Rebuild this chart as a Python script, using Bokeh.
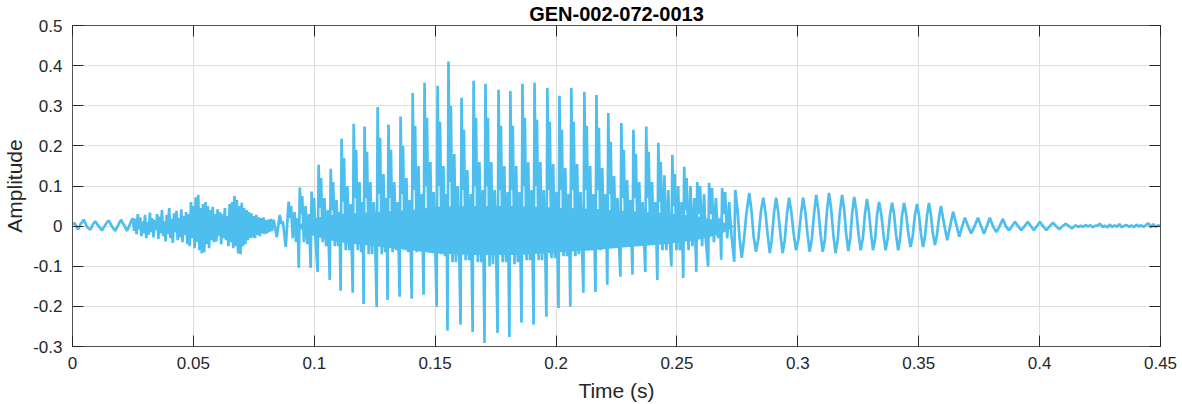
import numpy as np
from bokeh.plotting import figure
from bokeh.models import FixedTicker, LinearAxis, Range1d
from bokeh.embed import file_html
from bokeh.resources import INLINE

TITLE = "GEN-002-072-0013"
X_LABEL = "Time (s)"
Y_LABEL = "Amplitude"
X_TICKS = [0, 0.05, 0.1, 0.15, 0.2, 0.25, 0.3, 0.35, 0.4, 0.45]
X_TICK_LABELS = ["0", "0.05", "0.1", "0.15", "0.2", "0.25", "0.3", "0.35", "0.4", "0.45"]
Y_TICKS = [-0.3, -0.2, -0.1, 0, 0.1, 0.2, 0.3, 0.4, 0.5]
Y_TICK_LABELS = ["-0.3", "-0.2", "-0.1", "0", "0.1", "0.2", "0.3", "0.4", "0.5"]

# --- low ripple at the start (time in ms, amplitude) ---
ripple_t_ms = [0.0, 0.8, 1.5, 2.3, 3.4, 4.0, 4.6, 5.3, 6.0, 7.4, 8.4, 9.0, 9.4, 10.1, 10.8, 12.2,
               13.6, 14.3, 15.0, 15.7, 16.3, 17.7, 19.0, 19.6, 20.2, 20.8, 21.4, 22.5, 23.2,
               23.8, 24.4, 25.0]
ripple_amp = [0.004, 0.008, 0.001, -0.009, 0.006, 0.010, 0.016, 0.008, -0.002, -0.009, 0.004,
              0.009, 0.012, 0.006, 0.0, -0.011, 0.003, 0.010, 0.014, 0.006, -0.001, -0.012,
              0.004, 0.011, 0.016, 0.007, 0.002, -0.012, -0.004, 0.006, 0.014, 0.020]

# --- unvoiced noise, sampled every 0.5 ms from 25.5 ms ---
noise_t0_ms = 25.5
noise_dt_ms = 0.5
noise_amp = [-0.012, 0.018, -0.020, 0.030, -0.008, 0.022, -0.025, 0.012, -0.018, 0.028,
             -0.030, 0.010, -0.022, 0.034, -0.015, 0.020, -0.028, 0.015, -0.010, 0.030,
             -0.032, 0.024, -0.018, 0.040, -0.025, 0.012, -0.038, 0.028, -0.020, 0.045,
             -0.030, 0.018, -0.042, 0.032, -0.015, 0.038, -0.035, 0.020, -0.028, 0.042,
             -0.040, 0.025, -0.022, 0.035, -0.045, 0.030, -0.050, 0.060, -0.030, 0.050,
             -0.055, 0.072, -0.040, 0.078, -0.060, 0.045, -0.068, 0.055, -0.065, 0.060,
             -0.045, 0.050, -0.055, 0.040, -0.035, 0.048, -0.040, 0.030, -0.038, 0.042,
             -0.025, 0.035, -0.045, 0.030, -0.030, 0.045, -0.035, 0.025, -0.050, 0.055,
             -0.040, 0.060, -0.055, 0.075, -0.050, 0.065, -0.068, 0.050, -0.070, 0.058,
             -0.050, 0.045, -0.045, 0.040, -0.035, 0.035, -0.030, 0.032, -0.028, 0.025,
             -0.030, 0.028, -0.022, 0.022, -0.025, 0.020, -0.018, 0.022, -0.020, 0.015,
             -0.018, 0.016, -0.014, 0.018]

# --- voicing onset ---
onset_t_ms = [82.5, 83.2, 84.5, 85.7, 86.4, 87.0, 88.2]
onset_amp = [-0.012, 0.016, -0.027, 0.028, 0.005, 0.012, -0.052]

# --- voiced part: glottal pulses with their ringing ---
voiced_t_ms = [
    89.4, 89.9, 90.4, 91.1, 91.8, 92.5, 93.1, 93.6,
    94.0, 94.5, 95.0, 95.7, 96.4, 97.1, 97.8, 98.5,
    98.9, 99.4, 99.9, 100.6, 101.4,
    101.8, 102.3, 102.8, 103.5, 104.2, 104.9, 105.6, 106.4,
    106.8, 107.3, 107.8, 108.5, 109.2, 109.9, 110.4, 110.9,
    111.3, 111.8, 112.3, 113.0, 113.7, 114.4, 115.1, 115.9,
    116.3, 116.8, 117.3, 118.0, 118.7, 119.4, 120.0, 120.4,
    120.8, 121.3, 121.8, 122.5, 123.2, 123.9, 124.6, 125.2, 125.8,
    126.2, 126.7, 127.2, 127.9, 128.6, 129.3, 129.9, 130.3,
    130.7, 131.2, 131.7, 132.4, 133.1, 133.8, 134.5, 135.3,
    135.7, 136.2, 136.7, 137.4, 138.1, 138.8, 139.5, 140.3,
    140.7, 141.2, 141.7, 142.4, 143.1, 143.8, 144.5, 145.2,
    145.6, 146.1, 146.6, 147.3, 148.0, 148.7, 149.4, 150.0, 150.6,
    151.0, 151.5, 152.0, 152.7, 153.4, 154.1, 154.7, 155.1,
    155.5, 156.0, 156.5, 157.2, 157.9, 158.6, 159.3, 159.9, 160.5,
    160.9, 161.4, 161.9, 162.6, 163.3, 164.0, 164.7, 165.5,
    165.9, 166.4, 166.9, 167.6, 168.3, 169.0, 169.7, 170.4,
    170.8, 171.3, 171.8, 172.5, 173.2, 173.9, 174.6, 175.2, 175.8,
    176.2, 176.7, 177.2, 177.9, 178.6, 179.3, 180.0, 180.7,
    181.1, 181.6, 182.1, 182.8, 183.5, 184.2, 184.9, 185.7,
    186.1, 186.6, 187.1, 187.8, 188.5, 189.2, 189.9, 190.7,
    191.1, 191.6, 192.1, 192.8, 193.5, 194.2, 194.9, 195.5, 196.0,
    196.4, 196.9, 197.4, 198.1, 198.8, 199.5, 200.2, 201.0,
    201.4, 201.9, 202.4, 203.1, 203.8, 204.5, 205.2, 205.9,
    206.3, 206.8, 207.3, 208.0, 208.7, 209.4, 210.1, 210.7, 211.3,
    211.7, 212.2, 212.7, 213.4, 214.1, 214.8, 215.5, 216.3,
    216.7, 217.2, 217.7, 218.4, 219.1, 219.8, 220.5, 221.2,
    221.6, 222.1, 222.6, 223.3, 224.0, 224.7, 225.4, 226.0, 226.6,
    227.0, 227.5, 228.0, 228.7, 229.4, 230.1, 230.8, 231.6,
    232.0, 232.5, 233.0, 233.7, 234.4, 235.1, 235.8, 236.4, 236.9,
    237.3, 237.8, 238.3, 239.0, 239.7, 240.4, 241.1, 241.9,
    242.3, 242.8, 243.3, 244.0, 244.8, 245.6, 246.4, 247.1, 247.7,
    248.1, 248.6, 249.1, 249.8, 250.5, 251.2, 251.9, 252.6,
    253.0, 253.5, 254.0, 254.8, 255.6, 256.4, 257.2, 258.0,
    258.4, 259.0, 259.6, 260.4, 261.2, 262.0, 262.9,
    263.3, 263.9, 264.5, 265.3, 266.1, 267.0, 267.8, 268.3,
    268.7, 269.3, 269.9, 270.8, 271.6, 272.5, 273.7,
]
voiced_amp = [
    0.061, 0.020, 0.050, -0.030, 0.035, -0.040, 0.020, -0.104,
    0.096, 0.030, 0.075, -0.040, 0.050, -0.045, 0.030, -0.104,
    0.086, 0.020, 0.070, -0.040, -0.114,
    0.153, 0.045, 0.120, -0.040, 0.070, -0.050, 0.040, -0.134,
    0.143, 0.040, 0.110, -0.050, 0.065, -0.050, 0.035, -0.161,
    0.218, 0.060, 0.170, -0.060, 0.100, -0.060, 0.055, -0.166,
    0.255, 0.070, 0.190, -0.060, 0.110, -0.065, 0.060, -0.194,
    0.248, 0.070, 0.185, -0.070, 0.110, -0.070, 0.060, -0.040, -0.202,
    0.297, 0.080, 0.220, -0.070, 0.130, -0.065, 0.070, -0.184,
    0.253, 0.070, 0.190, -0.065, 0.110, -0.060, 0.060, -0.176,
    0.273, 0.080, 0.200, -0.060, 0.120, -0.065, 0.065, -0.181,
    0.332, 0.090, 0.250, -0.065, 0.150, -0.060, 0.080, -0.171,
    0.357, 0.100, 0.270, -0.060, 0.160, -0.065, 0.085, -0.040, -0.201,
    0.350, 0.100, 0.260, -0.070, 0.150, -0.075, 0.080, -0.261,
    0.410, 0.110, 0.300, -0.090, 0.180, -0.090, 0.100, -0.050, -0.246,
    0.320, 0.090, 0.240, -0.085, 0.140, -0.085, 0.080, -0.264,
    0.362, 0.100, 0.270, -0.090, 0.160, -0.090, 0.090, -0.291,
    0.355, 0.100, 0.270, -0.100, 0.160, -0.095, 0.090, -0.055, -0.266,
    0.340, 0.090, 0.250, -0.090, 0.150, -0.090, 0.085, -0.276,
    0.337, 0.090, 0.250, -0.095, 0.150, -0.090, 0.085, -0.241,
    0.355, 0.100, 0.270, -0.085, 0.160, -0.085, 0.090, -0.246,
    0.357, 0.100, 0.265, -0.085, 0.160, -0.085, 0.090, -0.050, -0.226,
    0.345, 0.090, 0.260, -0.080, 0.155, -0.080, 0.085, -0.204,
    0.325, 0.090, 0.240, -0.075, 0.145, -0.075, 0.080, -0.201,
    0.345, 0.090, 0.260, -0.075, 0.155, -0.070, 0.085, -0.045, -0.166,
    0.335, 0.090, 0.250, -0.060, 0.150, -0.060, 0.080, -0.164,
    0.327, 0.090, 0.245, -0.060, 0.145, -0.055, 0.080, -0.146,
    0.282, 0.080, 0.210, -0.050, 0.125, -0.050, 0.070, -0.035, -0.126,
    0.257, 0.070, 0.190, -0.045, 0.115, -0.045, 0.065, -0.121,
    0.240, 0.070, 0.180, -0.045, 0.110, -0.040, 0.060, -0.030, -0.114,
    0.248, 0.070, 0.185, -0.045, 0.110, -0.045, 0.060, -0.134,
    0.208, 0.060, 0.160, -0.060, 0.127, -0.060, 0.090, -0.040, -0.100,
    0.178, 0.050, 0.130, -0.060, 0.100, -0.060, 0.060, -0.129,
    0.148, 0.040, 0.120, -0.060, 0.100, -0.050, 0.070, -0.114,
    0.110, 0.030, 0.100, -0.050, 0.080, -0.040, -0.101,
    0.108, 0.030, 0.095, -0.040, 0.070, -0.030, 0.020, -0.084,
    0.095, 0.030, 0.085, -0.030, 0.060, -0.020, -0.089,
]

# --- envelope of the densely oscillating core of the voiced part (ms, upper, lower) ---
core_t_ms = [92.0, 100.0, 110.0, 125.0, 140.0, 150.0, 165.0, 185.0, 200.0, 215.0, 230.0,
             245.0, 258.0, 268.0, 274.0]
core_hi = [0.0, 0.020, 0.030, 0.035, 0.040, 0.048, 0.050, 0.050, 0.046, 0.043, 0.038,
           0.033, 0.025, 0.012, 0.0]
core_lo = [0.0, -0.025, -0.040, -0.050, -0.060, -0.068, -0.072, -0.072, -0.066, -0.060,
           -0.052, -0.045, -0.035, -0.020, 0.0]

# --- decaying, nearly sinusoidal part ---
decay_t_ms = [
    274.1, 275.0, 275.9, 276.8, 277.7, 278.7,
    279.9, 280.8, 281.7, 282.7, 283.7, 284.7,
    285.7, 286.6, 287.5, 288.4, 289.2, 290.1,
    291.0, 291.9, 292.8, 293.7, 294.6, 295.5,
    296.4, 297.3, 298.3, 299.3, 300.3, 301.3,
    302.2, 303.1, 304.0, 304.9, 305.8, 306.7,
    307.6, 308.5, 309.4, 310.3, 311.2, 312.0,
    312.9, 313.8, 314.7, 315.6, 316.5, 317.4,
    318.3, 319.2, 320.0, 320.9, 321.7, 322.5,
    323.3, 324.2, 325.1, 326.0, 326.9, 327.8,
    328.6, 329.4, 330.3, 331.1, 332.0, 332.8,
    333.6, 334.5, 335.4, 336.3, 337.2, 338.1,
    339.0, 339.8, 340.6, 341.5, 342.3, 343.1,
    343.9, 344.8, 345.7, 346.6, 347.5, 348.4,
    349.3, 350.1, 350.9, 351.8, 352.6, 353.4,
    354.2, 355.0, 355.8, 356.7, 357.5, 358.4,
    359.2, 360.5, 361.8, 363.0,
    364.2, 365.5, 366.8, 368.0,
    369.1, 370.4, 371.7, 373.1,
    374.5, 375.8, 377.0, 378.2,
    379.4, 380.7, 382.1, 383.5,
    384.8, 386.0, 387.3, 388.6,
    389.8, 391.1, 392.4, 393.8,
    395.1, 396.4, 397.6, 398.9,
    400.1, 401.4, 402.8, 404.2,
    405.5, 406.8, 408.1, 409.5,
    410.8, 412.1, 413.4, 414.4,
]
decay_amp = [
    0.090, 0.045, -0.030, -0.079, -0.035, 0.030,
    0.083, 0.040, -0.025, -0.064, -0.030, 0.035,
    0.071, 0.035, -0.020, -0.067, -0.035, 0.030,
    0.071, 0.035, -0.020, -0.067, -0.035, 0.030,
    0.071, 0.035, -0.020, -0.060, -0.030, 0.030,
    0.071, 0.035, -0.020, -0.064, -0.032, 0.030,
    0.078, 0.040, -0.020, -0.064, -0.032, 0.035,
    0.083, 0.042, -0.022, -0.067, -0.034, 0.036,
    0.078, 0.040, -0.020, -0.062, -0.030, 0.034,
    0.073, 0.037, -0.020, -0.060, -0.030, 0.032,
    0.068, 0.035, -0.020, -0.060, -0.030, 0.030,
    0.060, 0.030, -0.020, -0.060, -0.030, 0.027,
    0.058, 0.030, -0.020, -0.060, -0.030, 0.026,
    0.058, 0.030, -0.018, -0.052, -0.026, 0.026,
    0.055, 0.028, -0.018, -0.052, -0.026, 0.025,
    0.058, 0.030, -0.016, -0.047, -0.024, 0.022,
    0.050, 0.005, -0.035, 0.000,
    0.036, 0.005, -0.026, 0.000,
    0.021, 0.000, -0.018, 0.000,
    0.021, 0.000, -0.019, 0.000,
    0.021, 0.000, -0.015, 0.000,
    0.018, 0.000, -0.011, 0.000,
    0.011, 0.000, -0.010, 0.000,
    0.011, 0.000, -0.010, 0.000,
    0.011, 0.000, -0.010, 0.000,
    0.009, 0.000, -0.008, 0.000,
    0.006, 0.000, -0.006, 0.000,
]

# --- residual noise at the end, sampled every 1 ms from 415 ms ---
tail_t0_ms = 415.0
tail_dt_ms = 1.0
tail_amp = [0.002, -0.002, 0.001, -0.002, 0.003, -0.001, 0.002, -0.003, 0.001, 0.002,
            0.006, -0.002, 0.001, -0.003, 0.004, -0.002, 0.002, -0.002, 0.005, -0.003,
            0.001, 0.003, -0.002, 0.002, -0.003, 0.004, -0.001, 0.002, -0.002, 0.003,
            0.007, -0.003, 0.005, -0.002, 0.002, 0.001]

noise_t_ms = noise_t0_ms + noise_dt_ms * np.arange(len(noise_amp))
tail_t_ms = tail_t0_ms + tail_dt_ms * np.arange(len(tail_amp))

t_ms = np.concatenate([ripple_t_ms, noise_t_ms, onset_t_ms, voiced_t_ms, decay_t_ms, tail_t_ms])
amp = np.concatenate([ripple_amp, noise_amp, onset_amp, voiced_amp, decay_amp, tail_amp])
t_s = t_ms / 1000.0

FONT = "Liberation Sans"
TXT = "#262626"
WAVE = "#4DBEEE"

p = figure(width=1182, height=404, output_backend="svg", toolbar_location=None,
           x_range=Range1d(0, 0.45), y_range=Range1d(-0.3, 0.5),
           min_border_left=62, min_border_right=22, min_border_top=25, min_border_bottom=58,
           background_fill_color="white", border_fill_color="white")

p.title.text = TITLE
p.title.align = "center"
p.title.text_font = FONT
p.title.text_font_size = "20px"
p.title.text_font_style = "bold"
p.title.text_color = "#000000"
p.title.standoff = 1

p.varea(x=np.array(core_t_ms) / 1000.0, y1=core_lo, y2=core_hi, fill_color=WAVE, fill_alpha=1.0)
p.line(t_s, amp, line_color=WAVE, line_width=2.7)

p.outline_line_color = "#262626"
p.outline_line_width = 1
p.outline_line_alpha = 0.55

for ax, ticks, labels in ((p.xaxis[0], X_TICKS, X_TICK_LABELS), (p.yaxis[0], Y_TICKS, Y_TICK_LABELS)):
    ax.ticker = FixedTicker(ticks=ticks)
    ax.major_label_overrides = {t: l for t, l in zip(ticks, labels)}
    ax.major_tick_in = 11
    ax.major_tick_out = 0
    ax.minor_tick_line_color = None
    ax.major_tick_line_color = TXT
    ax.axis_line_color = TXT
    ax.axis_line_alpha = 0.55
    ax.major_label_text_font = FONT
    ax.major_label_text_font_size = "17px"
    ax.major_label_text_color = TXT
    ax.axis_label_text_font = FONT
    ax.axis_label_text_font_size = "21px"
    ax.axis_label_text_font_style = "normal"
    ax.axis_label_text_color = TXT

p.xaxis.axis_label = X_LABEL
p.yaxis.axis_label = Y_LABEL
p.xaxis.major_label_standoff = 10
p.yaxis.major_label_standoff = 10
p.xaxis.axis_label_standoff = 7
p.yaxis.axis_label_standoff = 4

for loc, ticks in (("above", X_TICKS), ("right", Y_TICKS)):
    extra = LinearAxis(ticker=FixedTicker(ticks=ticks), major_label_text_color=None,
                       major_label_text_font_size="1px",
                       major_tick_in=11, major_tick_out=0, minor_tick_line_color=None,
                       major_tick_line_color=TXT, axis_line_color=TXT, axis_line_alpha=0.55,
                       major_label_standoff=0, axis_label_standoff=0)
    p.add_layout(extra, loc)

p.xgrid.ticker = FixedTicker(ticks=X_TICKS)
p.ygrid.ticker = FixedTicker(ticks=Y_TICKS)
p.xgrid.grid_line_color = "#dedede"
p.ygrid.grid_line_color = "#dedede"

open("out.html", "w").write(file_html(p, INLINE))
